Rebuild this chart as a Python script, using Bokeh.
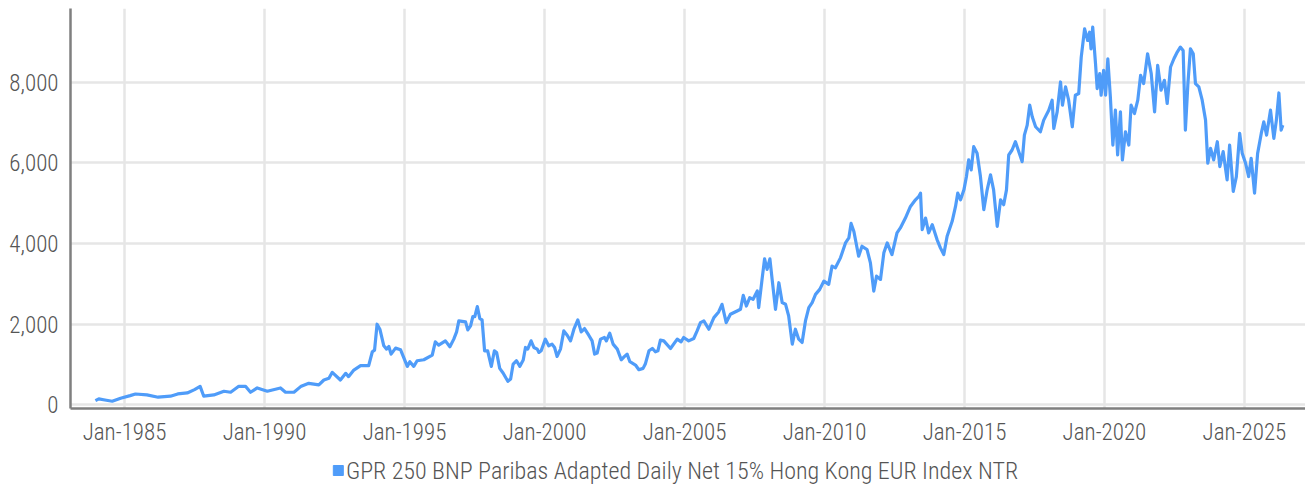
from bokeh.plotting import figure
from bokeh.layouts import column
from bokeh.models import FixedTicker, NumeralTickFormatter, Range1d
from bokeh.core.properties import value
from bokeh.embed import file_html
from bokeh.resources import INLINE

SERIES_NAME = "GPR 250 BNP Paribas Adapted Daily Net 15% Hong Kong EUR Index NTR"

# decimal years and index values
years = [1983.96, 1984.08, 1984.3, 1984.56, 1984.86, 1985.2, 1985.39, 1985.8, 1986.2, 1986.64,
         1986.9, 1987.24, 1987.5, 1987.7, 1987.83, 1988.19, 1988.55, 1988.79, 1989.08, 1989.32,
         1989.5, 1989.74, 1990.1, 1990.57, 1990.75, 1991.05, 1991.29, 1991.58, 1991.94, 1992.12,
         1992.3, 1992.42, 1992.71, 1992.9, 1993.0, 1993.19, 1993.43, 1993.72, 1993.85, 1993.93,
         1994.02, 1994.12, 1994.26, 1994.36, 1994.44, 1994.52, 1994.68, 1994.86, 1995.1, 1995.19,
         1995.33, 1995.45, 1995.69, 1995.99, 1996.1, 1996.22, 1996.46, 1996.62, 1996.76, 1996.86,
         1996.94, 1997.18, 1997.26, 1997.36, 1997.44, 1997.51, 1997.6, 1997.69, 1997.77, 1997.86,
         1997.97, 1998.1, 1998.21, 1998.29, 1998.4, 1998.52, 1998.69, 1998.79, 1998.88, 1999.0,
         1999.12, 1999.24, 1999.32, 1999.4, 1999.52, 1999.62, 1999.74, 1999.8, 1999.88, 2000.03,
         2000.15, 2000.27, 2000.36, 2000.45, 2000.57, 2000.69, 2000.81, 2000.93, 2001.05, 2001.19,
         2001.31, 2001.43, 2001.58, 2001.7, 2001.79, 2001.88, 2002.0, 2002.14, 2002.21, 2002.33,
         2002.45, 2002.6, 2002.74, 2002.86, 2002.95, 2003.05, 2003.25, 2003.37, 2003.52, 2003.6,
         2003.73, 2003.85, 2003.96, 2004.05, 2004.14, 2004.26, 2004.5, 2004.74, 2004.88, 2004.97,
         2005.15, 2005.33, 2005.45, 2005.57, 2005.69, 2005.87, 2006.05, 2006.22, 2006.34, 2006.49,
         2006.64, 2006.88, 2007.0, 2007.1, 2007.21, 2007.33, 2007.45, 2007.6, 2007.65, 2007.77,
         2007.86, 2007.95, 2008.05, 2008.13, 2008.25, 2008.37, 2008.49, 2008.61, 2008.72, 2008.85,
         2008.96, 2009.08, 2009.2, 2009.32, 2009.44, 2009.56, 2009.68, 2009.83, 2009.98, 2010.15,
         2010.27, 2010.39, 2010.57, 2010.75, 2010.87, 2010.95, 2011.05, 2011.22, 2011.34, 2011.52,
         2011.64, 2011.76, 2011.86, 2012.0, 2012.12, 2012.24, 2012.41, 2012.59, 2012.71, 2012.89,
         2013.07, 2013.25, 2013.37, 2013.43, 2013.49, 2013.61, 2013.72, 2013.85, 2014.02, 2014.14,
         2014.26, 2014.38, 2014.56, 2014.68, 2014.76, 2014.86, 2014.98, 2015.07, 2015.15, 2015.24,
         2015.33, 2015.45, 2015.57, 2015.69, 2015.81, 2015.93, 2016.04, 2016.17, 2016.29, 2016.4,
         2016.5, 2016.58, 2016.7, 2016.82, 2016.94, 2017.06, 2017.14, 2017.24, 2017.33, 2017.42,
         2017.54, 2017.71, 2017.83, 2018.01, 2018.13, 2018.19, 2018.31, 2018.43, 2018.5, 2018.61,
         2018.72, 2018.85, 2018.96, 2019.08, 2019.17, 2019.29, 2019.4, 2019.47, 2019.52, 2019.58,
         2019.68, 2019.74, 2019.83, 2019.88, 2019.97, 2020.04, 2020.12, 2020.21, 2020.3, 2020.39,
         2020.47, 2020.57, 2020.64, 2020.75, 2020.87, 2020.95, 2021.07, 2021.19, 2021.29, 2021.4,
         2021.54, 2021.67, 2021.79, 2021.9, 2022.02, 2022.14, 2022.24, 2022.36, 2022.48, 2022.6,
         2022.71, 2022.81, 2022.89, 2022.98, 2023.07, 2023.17, 2023.25, 2023.37, 2023.49, 2023.61,
         2023.69, 2023.79, 2023.9, 2024.03, 2024.12, 2024.24, 2024.38, 2024.47, 2024.6, 2024.71,
         2024.83, 2024.92, 2025.04, 2025.15, 2025.24, 2025.36, 2025.47, 2025.6, 2025.69, 2025.79,
         2025.93, 2026.05, 2026.14, 2026.23, 2026.31, 2026.37]

values = [105, 148, 120, 90, 165, 230, 270, 247, 190, 215,
          272, 296, 378, 460, 215, 247, 338, 313, 461, 461,
          313, 420, 338, 420, 313, 313, 453, 535, 494, 617,
          659, 807, 617, 782, 700, 864, 971, 971, 1317, 1358,
          2000, 1876, 1465, 1383, 1448, 1259, 1407, 1366, 955, 1070,
          955, 1094, 1119, 1235, 1564, 1481, 1588, 1440, 1630, 1810,
          2082, 2057, 1860, 1958, 2189, 2189, 2436, 2140, 2107, 1341,
          1341, 955, 1341, 1300, 905, 790, 584, 642, 1012, 1094,
          955, 1111, 1424, 1383, 1588, 1424, 1383, 1300, 1341, 1630,
          1465, 1506, 1424, 1201, 1383, 1835, 1728, 1588, 1876, 2107,
          1810, 1893, 1728, 1588, 1259, 1284, 1630, 1671, 1588, 1778,
          1506, 1383, 1119, 1201, 1259, 1070, 988, 872, 905, 1012,
          1341, 1399, 1317, 1341, 1605, 1588, 1399, 1630, 1564, 1671,
          1588, 1646, 1835, 2041, 2082, 1876, 2164, 2304, 2494, 2041,
          2247, 2329, 2370, 2716, 2452, 2659, 2617, 2823, 2412, 3111,
          3622, 3358, 3622, 3111, 2370, 3029, 2535, 2494, 2206, 1506,
          1876, 1630, 1548, 2082, 2412, 2535, 2741, 2864, 3070, 2988,
          3440, 3399, 3646, 4017, 4140, 4500, 4300, 3687, 3934, 3852,
          3523, 2823, 3193, 3111, 3770, 4017, 3728, 4264, 4387, 4634,
          4921, 5086, 5168, 5251, 4346, 4634, 4264, 4469, 4099, 3893,
          3728, 4181, 4551, 4921, 5251, 5086, 5333, 5662, 6074, 5827,
          6403, 6238, 5662, 4840, 5333, 5704, 5333, 4427, 5086, 4963,
          5333, 6197, 6321, 6526, 6279, 6032, 6691, 6938, 7432, 7143,
          6897, 6773, 7062, 7309, 7556, 6856, 7267, 8008, 7432, 7885,
          7556, 6897, 7679, 7721, 8625, 9325, 9037, 9242, 8831, 9366,
          8461, 7844, 8214, 7679, 8296, 7679, 8584, 7638, 6444, 7309,
          6197, 7267, 6074, 6773, 6444, 7432, 7226, 7556, 8173, 7967,
          8708, 8214, 7267, 8420, 7803, 8049, 7474, 8379, 8584, 8749,
          8872, 8790, 6815, 7967, 8831, 8708, 7967, 7885, 7556, 7062,
          5992, 6362, 6074, 6526, 5909, 6279, 5580, 6444, 5292, 5662,
          6732, 6238, 5992, 5662, 6115, 5251, 6238, 6732, 7020, 6691,
          7309, 6609, 7062, 7735, 6815, 6938]

x_ticks = [1985, 1990, 1995, 2000, 2005, 2010, 2015, 2020, 2025]
x_tick_labels = ["Jan-1985", "Jan-1990", "Jan-1995", "Jan-2000", "Jan-2005",
                 "Jan-2010", "Jan-2015", "Jan-2020", "Jan-2025"]
y_ticks = [0, 2000, 4000, 6000, 8000]

LINE_COLOR = "#4f9cf9"
TEXT_COLOR = "#555555"
FONT = "'Roboto Condensed Light', 'Roboto Condensed', 'Liberation Sans Narrow', sans-serif"

# ---- main chart ----
p = figure(width=1305, height=448, output_backend="svg", toolbar_location=None,
           x_range=Range1d(1983.07, 2027.18), y_range=Range1d(-90, 9830),
           min_border_left=70, min_border_right=0, min_border_top=8, min_border_bottom=40)
p.outline_line_color = None
p.background_fill_color = "white"
p.border_fill_color = "white"

p.line(years, values, line_color=LINE_COLOR, line_width=3.2, line_join="round")

p.xaxis.ticker = FixedTicker(ticks=x_ticks)
p.xaxis.major_label_overrides = {t: l for t, l in zip(x_ticks, x_tick_labels)}
p.yaxis.ticker = FixedTicker(ticks=y_ticks)
p.yaxis.formatter = NumeralTickFormatter(format="0,0")
for ax in (p.xaxis[0], p.yaxis[0]):
    ax.axis_line_color = "#7f7f7f"
    ax.axis_line_width = 2.5
    ax.major_tick_line_color = None
    ax.minor_tick_line_color = None
    ax.major_label_text_font = FONT
    ax.major_label_text_font_size = "23px"
    ax.major_label_text_color = TEXT_COLOR
p.xaxis.major_label_standoff = 4
p.yaxis.major_label_standoff = 6

p.xgrid.ticker = FixedTicker(ticks=x_ticks)
p.ygrid.ticker = FixedTicker(ticks=y_ticks)
for g in (p.xgrid[0], p.ygrid[0]):
    g.grid_line_color = "#e6e6e6"
    g.grid_line_width = 2.5

# ---- legend strip (square + series name) ----
leg = figure(width=1305, height=44, output_backend="svg", toolbar_location=None,
             x_range=Range1d(0, 1305), y_range=Range1d(0, 44),
             x_axis_location=None, y_axis_location=None,
             min_border_left=0, min_border_right=0, min_border_top=0, min_border_bottom=0)
leg.outline_line_color = None
leg.xgrid.visible = False
leg.ygrid.visible = False
leg.scatter(x=[283], y=[22], marker="square", size=10,
            fill_color=LINE_COLOR, line_color=LINE_COLOR)
leg.text(x=[291], y=[22], text=[SERIES_NAME], text_font=value(FONT),
         text_font_size="24px", text_color=TEXT_COLOR,
         text_align="left", text_baseline="middle")

layout = column(p, leg, spacing=0)
open("out.html", "w").write(file_html(layout, INLINE))
